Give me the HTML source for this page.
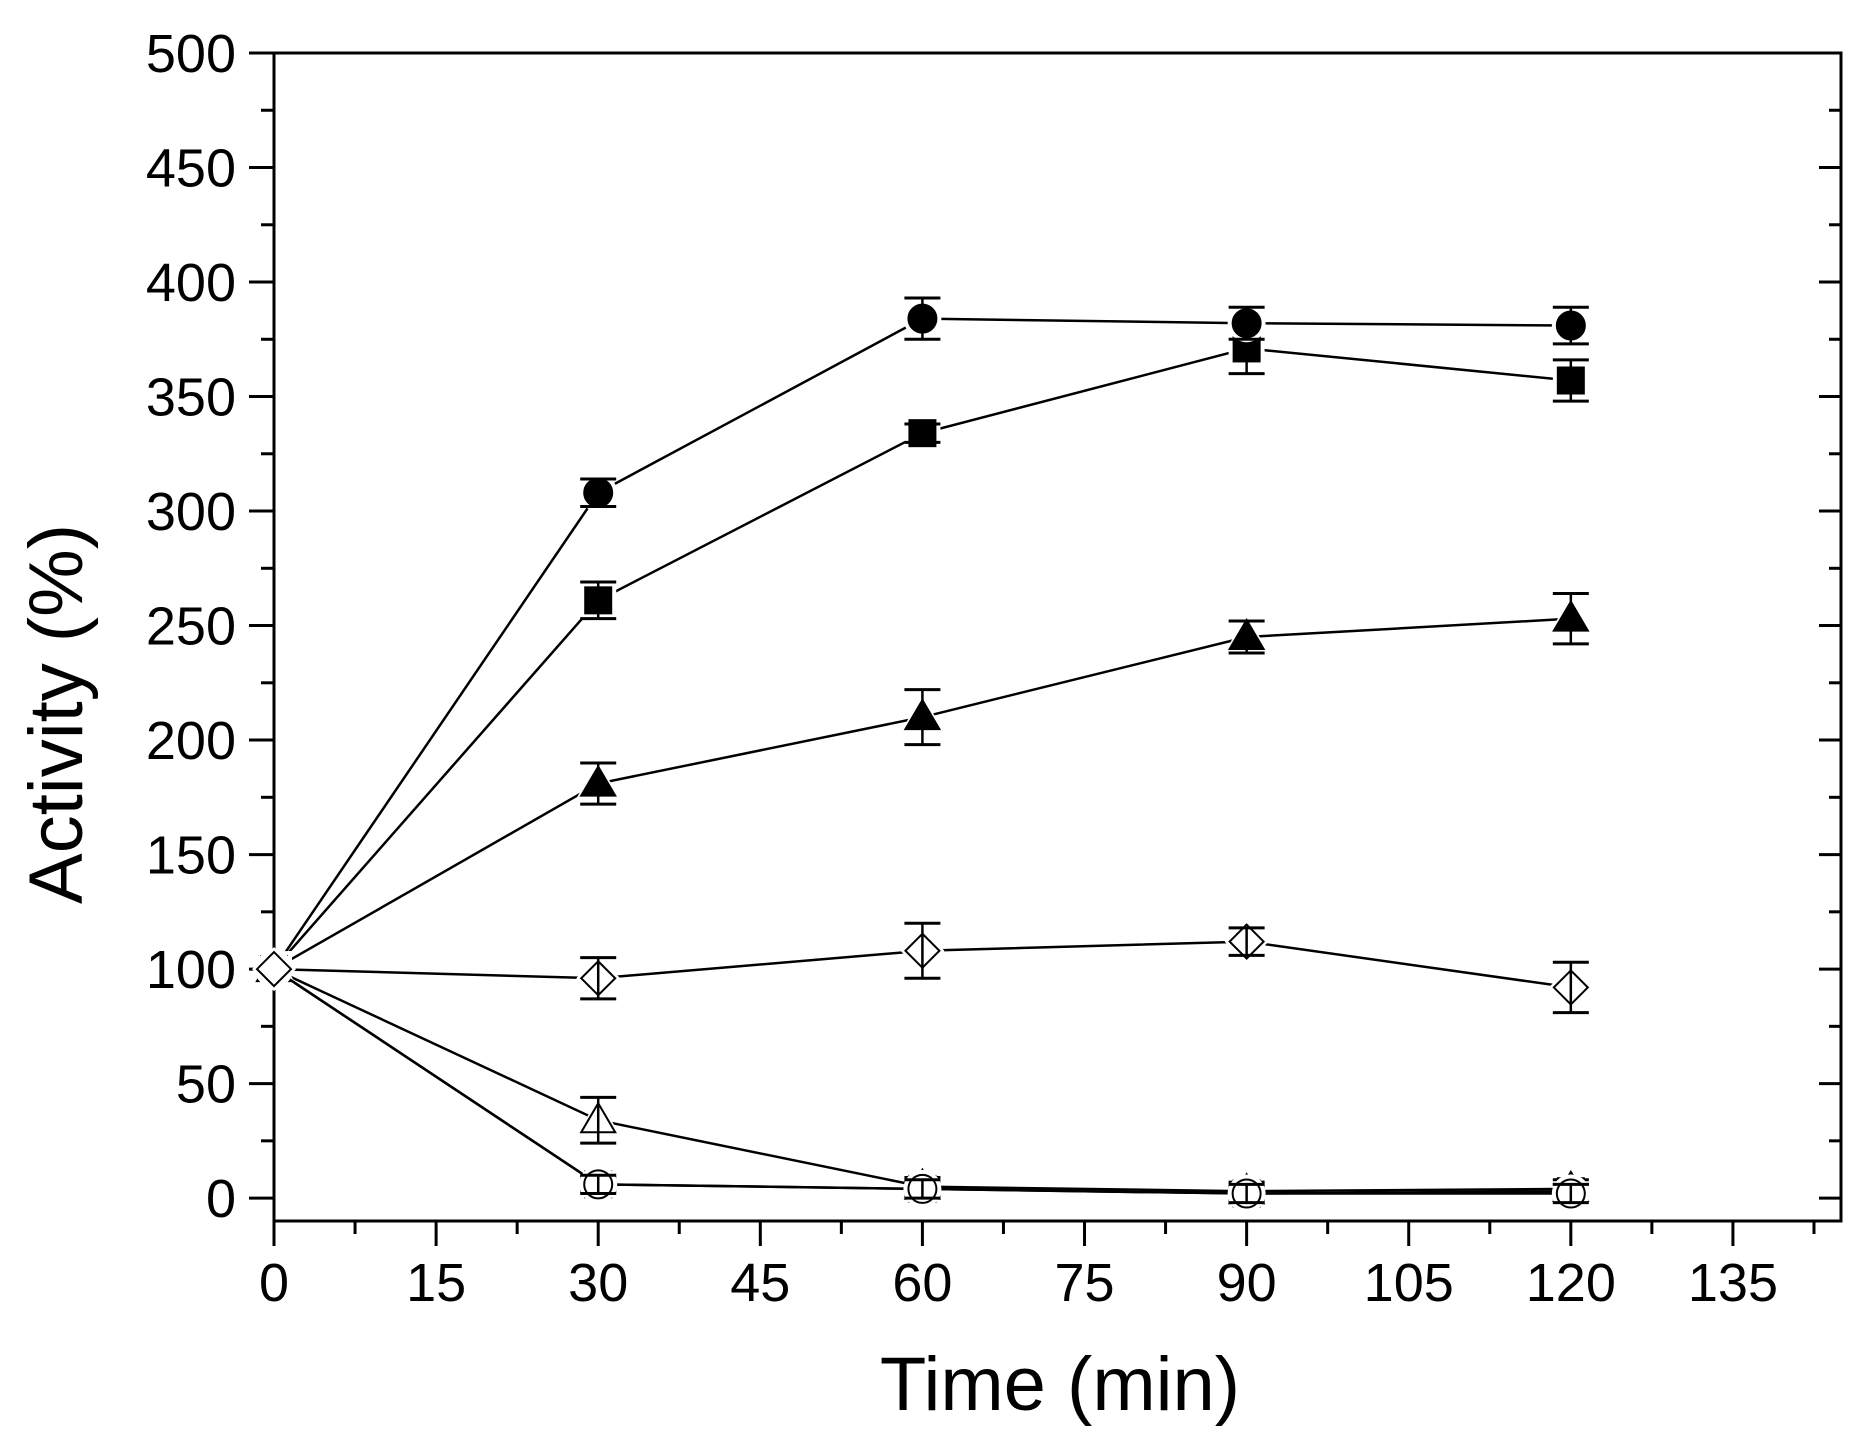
<!DOCTYPE html>
<html><head><meta charset="utf-8"><style>
html,body{margin:0;padding:0;background:#fff}
svg{display:block}
text{font-family:"Liberation Sans",Arial,sans-serif;fill:#000}
</style></head><body>
<svg id="chart" width="1865" height="1443" viewBox="0 0 1865 1443" xmlns="http://www.w3.org/2000/svg">
<g id="axes"></g>
<g id="series"></g>
<text x="1060" y="1410" font-size="76" text-anchor="middle">Time (min)</text>
<text transform="translate(82,714) rotate(-90)" font-size="76" text-anchor="middle">Activity (%)</text>
</svg>
<script>
const times = [0, 30, 60, 90, 120];
const xTicks = [0, 15, 30, 45, 60, 75, 90, 105, 120, 135];
const yTicks = [0, 50, 100, 150, 200, 250, 300, 350, 400, 450, 500];
const filledCircle = [100, 308, 384, 382, 381];
const filledCircleErr = [0, 6, 9, 7, 8];
const filledSquare = [100, 261, 334, 371, 357];
const filledSquareErr = [0, 8, 4, 11, 9];
const filledTriangle = [100, 181, 210, 245, 253];
const filledTriangleErr = [0, 9, 12, 7, 11];
const openDiamond = [100, 96, 108, 112, 92];
const openDiamondErr = [0, 9, 12, 6, 11];
const openTriangle = [100, 34, 5, 3, 4];
const openTriangleErr = [0, 10, 4, 4, 4];
const openCircle = [100, 6, 4, 2, 2];
const openCircleErr = [0, 4, 4, 4, 4];
const openSquare = [100, 6, 4, 2, 3];
const openSquareErr = [0, 3, 3, 3, 3];

const L = 274, R = 1841, T = 53, B = 1221;
const xMax = 145, yMin = -10, yMax = 500;
const sx = v => L + (v / xMax) * (R - L);
const sy = v => B - (v - yMin) / (yMax - yMin) * (B - T);
const NS = 'http://www.w3.org/2000/svg';
function mk(tag, attrs, parent) {
  const e = document.createElementNS(NS, tag);
  for (const k in attrs) e.setAttribute(k, attrs[k]);
  parent.appendChild(e);
  return e;
}
const axes = document.getElementById('axes');
const frame = mk('rect', {x: L, y: T, width: R - L, height: B - T, fill: 'none', stroke: '#000', 'stroke-width': 3}, axes);


yTicks.forEach(v => {
  const y = sy(v);
  const t = mk('line', {x1: L - 25, x2: L, y1: y, y2: y, stroke: '#000', 'stroke-width': 3}, axes);
  
  
  mk('line', {x1: R - 22, x2: R, y1: y, y2: y, stroke: '#000', 'stroke-width': 3}, axes);
  if (v < 500) {
    const ym = sy(v + 25);
    mk('line', {x1: L - 13, x2: L, y1: ym, y2: ym, stroke: '#000', 'stroke-width': 3}, axes);
    mk('line', {x1: R - 12, x2: R, y1: ym, y2: ym, stroke: '#000', 'stroke-width': 3}, axes);
  }
  const lb = mk('text', {x: L - 38, y: y + 19, 'font-size': 54, 'text-anchor': 'end'}, axes);
  
  
  lb.textContent = v;
});
xTicks.forEach(v => {
  const x = sx(v);
  const t = mk('line', {x1: x, x2: x, y1: B, y2: B + 25, stroke: '#000', 'stroke-width': 3}, axes);
  
  
  const xm = sx(v + 7.5);
  if (v + 7.5 < xMax) mk('line', {x1: xm, x2: xm, y1: B, y2: B + 13, stroke: '#000', 'stroke-width': 3}, axes);
  const lb = mk('text', {x: x, y: B + 80, 'font-size': 54, 'text-anchor': 'middle'}, axes);
  
  
  lb.textContent = v;
});

const seriesG = document.getElementById('series');
function shapeEl(shape, x, y, s, g, grow) {
  const r = 14 + grow;
  if (shape === 'circle') return mk('circle', Object.assign({cx: x, cy: y, r: r}, s), g);
  if (shape === 'square') return mk('rect', Object.assign({x: x - 13 - grow, y: y - 13 - grow, width: 26 + 2 * grow, height: 26 + 2 * grow}, s), g);
  const a = 17 + grow;
  if (shape === 'triangle') return mk('polygon', Object.assign({points: `${x},${y - a} ${x + a},${y + 12 + grow * 0.6} ${x - a},${y + 12 + grow * 0.6}`}, s), g);
  return mk('polygon', Object.assign({points: `${x},${y - a} ${x + a},${y} ${x},${y + a} ${x - a},${y}`}, s), g);
}
function drawSeries(name, vals, errs, shape, fill) {
  const g = mk('g', {}, seriesG);
  
  
  const pts = times.map((t, i) => [sx(t), sy(vals[i])]);
  mk('polyline', {points: pts.map(p => p.join(',')).join(' '), fill: 'none', stroke: '#000', 'stroke-width': 2.5}, g);
  times.forEach((t, i) => {
    const x = sx(t), y = sy(vals[i]);
    shapeEl(shape, x, y, {fill: '#fff', stroke: 'none'}, g, 5);
    if (errs[i] > 0) {
      const y1 = sy(vals[i] + errs[i]), y2 = sy(vals[i] - errs[i]);
      mk('line', {x1: x, x2: x, y1: y1, y2: y2, stroke: '#000', 'stroke-width': 2.5}, g);
      mk('line', {x1: x - 18, x2: x + 18, y1: y1, y2: y1, stroke: '#000', 'stroke-width': 3}, g);
      mk('line', {x1: x - 18, x2: x + 18, y1: y2, y2: y2, stroke: '#000', 'stroke-width': 3}, g);
    }
    const m = shapeEl(shape, x, y, {fill: fill ? '#000' : 'none', stroke: '#000', 'stroke-width': 2}, g, 0);
    
    
  });
}
drawSeries('filled-triangle-series', filledTriangle, filledTriangleErr, 'triangle', true);
drawSeries('filled-square-series', filledSquare, filledSquareErr, 'square', true);
drawSeries('filled-circle-series', filledCircle, filledCircleErr, 'circle', true);
drawSeries('open-square-series', openSquare, openSquareErr, 'square', false);
drawSeries('open-triangle-series', openTriangle, openTriangleErr, 'triangle', false);
drawSeries('open-circle-series', openCircle, openCircleErr, 'circle', false);
drawSeries('open-diamond-series', openDiamond, openDiamondErr, 'diamond', false);
</script>
</body></html>
